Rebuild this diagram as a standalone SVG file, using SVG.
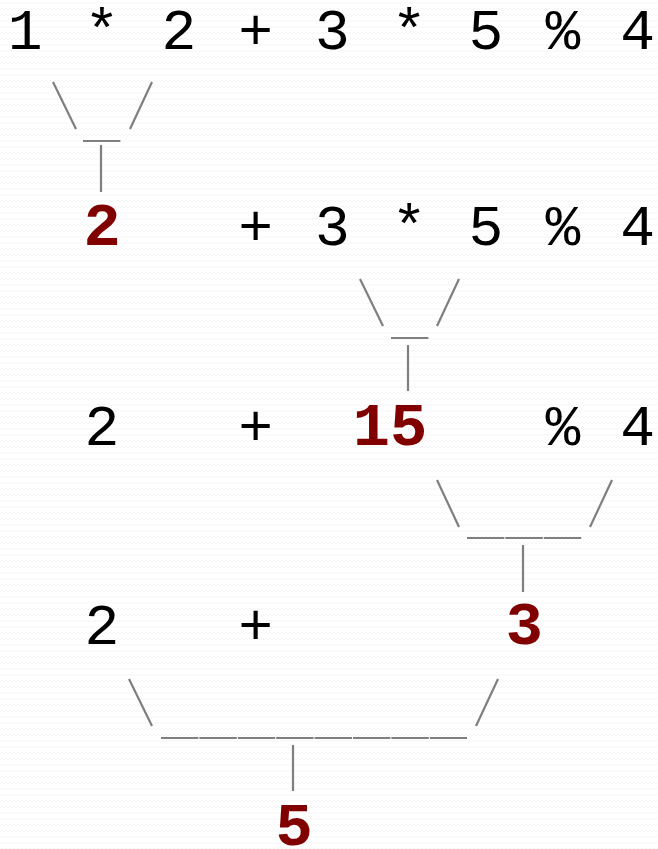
<svg xmlns="http://www.w3.org/2000/svg" width="658" height="849" viewBox="0 0 658 849">
<defs>
<pattern id="bg" width="8" height="6" patternUnits="userSpaceOnUse">
<polyline points="0,4 2,2 4,4 6,2 8,4" fill="none" stroke="#f6f6f6" stroke-width="1"/>
</pattern>
</defs>
<style>
.t{font-family:"Liberation Mono","Courier New",monospace;font-size:58px;fill:#000;text-anchor:middle}
.r{font-family:"Liberation Mono","Courier New",monospace;font-size:62px;font-weight:bold;fill:#800000;text-anchor:middle}
.c{stroke:#7f7f7f;stroke-width:2.2;fill:none}
.u{stroke:#7f7f7f;stroke-width:2.2;fill:none;stroke-dasharray:37.4 1}
</style>
<rect width="658" height="849" fill="#fff"/>
<rect width="658" height="849" fill="url(#bg)"/>
<g id="row1">
<text class="t" x="25.2" y="48.5">1</text>
<text class="t" x="102" y="48.5">*</text>
<text class="t" x="178.8" y="48.5">2</text>
<text class="t" x="255.6" y="48.5">+</text>
<text class="t" x="332.4" y="48.5">3</text>
<text class="t" x="409.2" y="48.5">*</text>
<text class="t" x="486" y="48.5">5</text>
<text class="t" x="562.8" y="48.5">%</text>
<text class="t" x="637.6" y="48.5">4</text>
</g>
<g id="row2">
<g id="result1"><text class="r" x="102" y="245">2</text></g>
<text class="t" x="255.6" y="245">+</text>
<text class="t" x="332.4" y="245">3</text>
<text class="t" x="409.2" y="245">*</text>
<text class="t" x="486" y="245">5</text>
<text class="t" x="562.8" y="245">%</text>
<text class="t" x="637.6" y="245">4</text>
</g>
<g id="row3">
<text class="t" x="102" y="445">2</text>
<text class="t" x="255.6" y="445">+</text>
<g id="result2"><text class="r" x="390" y="445">15</text></g>
<text class="t" x="562.8" y="445">%</text>
<text class="t" x="637.6" y="445">4</text>
</g>
<g id="row4">
<text class="t" x="102" y="644">2</text>
<text class="t" x="255.6" y="644">+</text>
<g id="result3"><text class="r" x="524.4" y="644">3</text></g>
</g>
<g id="row5">
<g id="result4"><text class="r" x="294" y="845">5</text></g>
</g>
<g id="connectors">
<line class="c" x1="53" y1="82" x2="76" y2="129"/>
<line class="c" x1="152" y1="82" x2="130" y2="129"/>
<line class="u" x1="83" y1="141" x2="121" y2="141"/>
<line class="c" x1="101" y1="145" x2="101" y2="192"/>

<line class="c" x1="360" y1="279" x2="383" y2="326"/>
<line class="c" x1="459" y1="279" x2="437" y2="326"/>
<line class="u" x1="391" y1="338" x2="429" y2="338"/>
<line class="c" x1="408" y1="345" x2="408" y2="391"/>

<line class="c" x1="437" y1="480" x2="459" y2="527"/>
<line class="c" x1="612" y1="480" x2="590" y2="527"/>
<line class="u" x1="467" y1="538" x2="582" y2="538"/>
<line class="c" x1="523" y1="545" x2="523" y2="592"/>

<line class="c" x1="129" y1="679" x2="152" y2="726"/>
<line class="c" x1="498" y1="679" x2="476" y2="726"/>
<line class="u" x1="161" y1="738" x2="467" y2="738"/>
<line class="c" x1="293" y1="745" x2="293" y2="791"/>
</g>
</svg>
